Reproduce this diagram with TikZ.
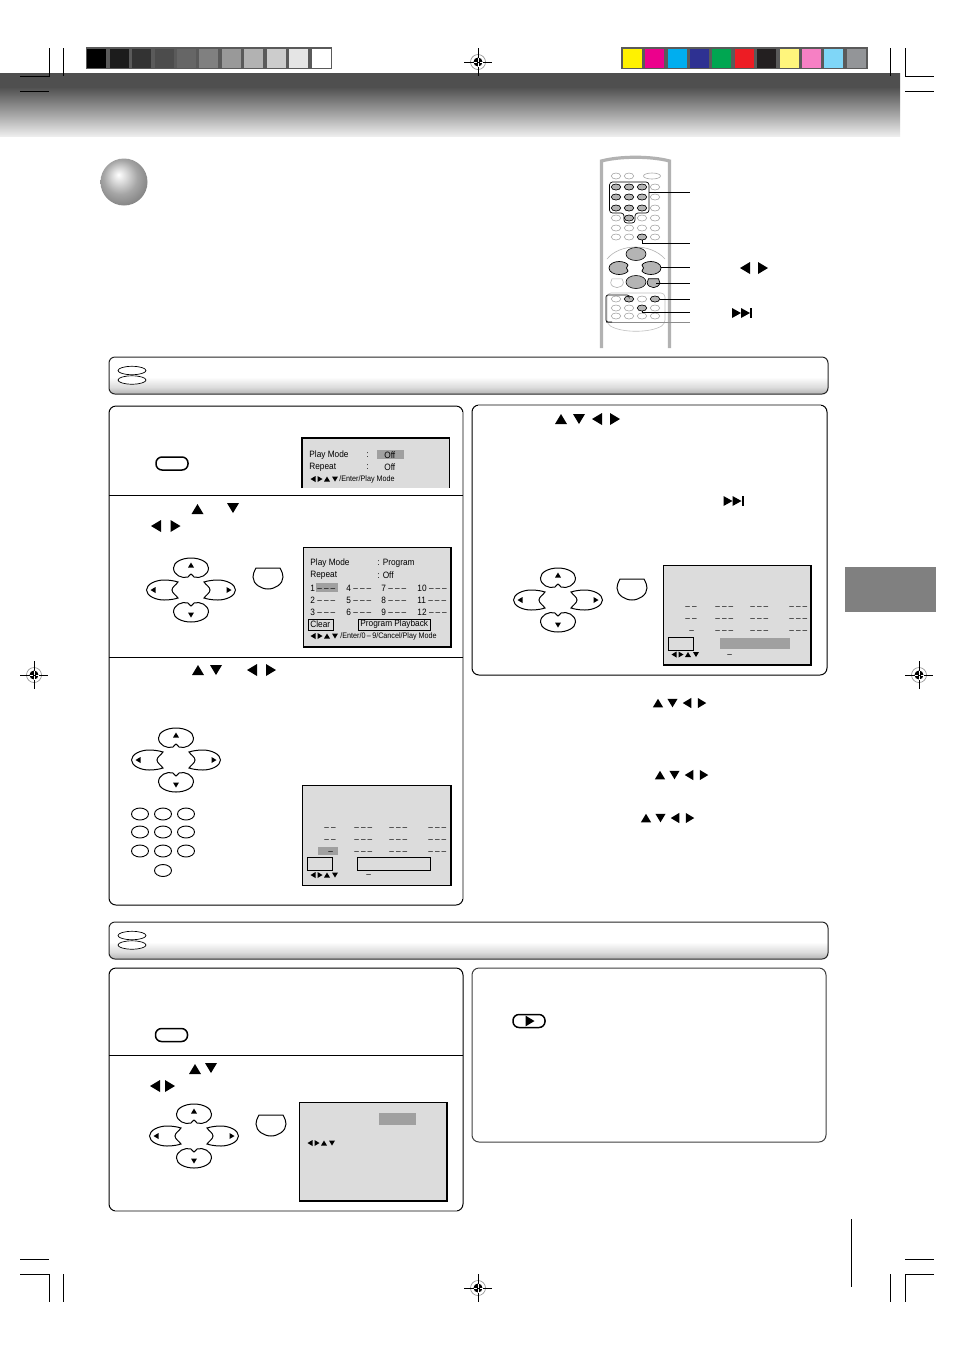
\documentclass[tikz,border=0pt]{standalone}
\usepackage{fontspec}
\usepackage{tikz}
\usetikzlibrary{positioning, shapes.geometric}
\newfontfamily\panelfont[FakeStretch=0.9]{Liberation Sans}
\definecolor{screengray}{HTML}{DCDCDC}
\definecolor{markgray}{HTML}{A0A0A0}
\definecolor{stripgray}{HTML}{5A5A5A}
\definecolor{btngray}{HTML}{B4B4B4}
\definecolor{rimgray}{HTML}{A8A8A8}
\definecolor{tabgray}{HTML}{808080}
\pgfdeclareverticalshading{headshade}{100bp}{color(0bp)=(white!93!black); color(25bp)=(white!93!black); color(42bp)=(white!65!black); color(64bp)=(black!69); color(100bp)=(black!69)}
\pgfdeclareverticalshading{barshade}{100bp}{color(0bp)=(black!30); color(25bp)=(black!30); color(34bp)=(black!14); color(48bp)=(white); color(100bp)=(white)}
\pgfdeclareradialshading{sphereshade}{\pgfpoint{-6bp}{8bp}}{color(0bp)=(white); color(8bp)=(black!15); color(18bp)=(black!35); color(32bp)=(black!52); color(50bp)=(black!55)}
\newcommand{\petalvpath}{(-3,9) .. controls (-9,11) and (-17.5,7) .. (-17.5,0) .. controls (-17.5,-6) and (-9,-10) .. (0,-10) .. controls (9,-10) and (17.5,-6) .. (17.5,0) .. controls (17.5,7) and (9,11) .. (3,9) .. controls (2,8.5) and (1,6) .. (0,6) .. controls (-1,6) and (-2,8.5) .. (-3,9) -- cycle}
\newcommand{\petalhpath}{(-17.5,0) .. controls (-17.5,-6) and (-8,-10) .. (0,-10) .. controls (6,-10) and (11,-9) .. (14,-8) .. controls (12,-5) and (8,-3) .. (8,0) .. controls (8,3) and (12,5) .. (14,8) .. controls (11,9) and (6,10) .. (0,10) .. controls (-8,10) and (-17.5,6) .. (-17.5,0) -- cycle}
\newcommand{\sidekeypath}{(-10,0) .. controls (-10,-4) and (-5,-6.5) .. (0,-6.5) .. controls (4,-6.5) and (8,-5) .. (9,-3) .. controls (8,-2) and (7.5,-1) .. (7.5,0) .. controls (7.5,1) and (8,2) .. (9,3) .. controls (8,5) and (4,6.5) .. (0,6.5) .. controls (-5,6.5) and (-10,4) .. (-10,0) -- cycle}
\newcommand{\dashes}{–\kern1pt–\kern1pt–}
\tikzset{
	triup/.pic={\fill (-6,5) -- (6,5) -- (0,-5) -- cycle;},
	tridown/.pic={\fill (-6,-5) -- (6,-5) -- (0,5) -- cycle;},
	trileft/.pic={\fill (5,-6) -- (5,6) -- (-5,0) -- cycle;},
	triright/.pic={\fill (-5,-6) -- (-5,6) -- (5,0) -- cycle;},
	skipicon/.pic={
		\fill (-10,-5) -- (-10,5) -- (-1,0) -- cycle;
		\fill (-1,-5) -- (-1,5) -- (8,0) -- cycle;
		\fill (8,-5) rectangle (10,5);
	},
	legendtris/.pic={
		\pic[scale=.5] at (3,0) {trileft};
		\pic[scale=.5] at (10,0) {triright};
		\pic[scale=.5] at (17,0) {triup};
		\pic[scale=.5] at (25,0) {tridown};
	},
	dpad/.pic={
		\begin{scope}[shift={(0,-22)}] \draw[keyline] \petalvpath; \end{scope}
		\begin{scope}[shift={(0,22)}, yscale=-1] \draw[keyline] \petalvpath; \end{scope}
		\begin{scope}[shift={(-27,0)}] \draw[keyline] \petalhpath; \end{scope}
		\begin{scope}[shift={(27,0)}, xscale=-1] \draw[keyline] \petalhpath; \end{scope}
		\pic[scale=.5] at (0,-25) {triup};
		\pic[scale=.5] at (0,25) {tridown};
		\pic[scale=.5] at (-38,0) {trileft};
		\pic[scale=.5] at (38,0) {triright};
	},
	enterkey/.pic={
		\draw[keyline] (-12,-10) -- (12,-10) .. controls (14,-6) and (15,-4) .. (15,-1) .. controls (15,6) and (7,11) .. (0,11) .. controls (-7,11) and (-15,6) .. (-15,-1) .. controls (-15,-4) and (-14,-6) .. (-12,-10) -- cycle;
	},
	regmark/.pic={
		\draw[black!45, line width=.3pt] (0,0) circle (7.5);
		\fill (0,0) circle (4.5);
		\draw[line width=.5pt] (-14,0) -- (14,0);
		\draw[line width=.5pt] (0,-14) -- (0,14);
		\draw[white, line width=.35pt] (-4.5,0) -- (4.5,0);
		\draw[white, line width=.35pt] (0,-4.5) -- (0,4.5);
		\draw[line width=.5pt] (-1.5,0) -- (1.5,0);
	},
	gridmarks/.pic={
		\foreach \y [count=\r] in {44,56} {
			\node[ptxt] (gm-\r-1) at (22,\y) {–\kern1pt–};
		}
		\foreach \y [count=\r] in {44,56,68} {
			\node[ptxt] (gm-\r-2) at (52,\y) {\dashes};
			\node[ptxt] (gm-\r-3) at (87,\y) {\dashes};
			\node[ptxt] (gm-\r-4) at (126,\y) {\dashes};
		}
		\node[ptxt] (gm-3-1) at (26,68) {–};
		\node[ptxt] (gm-foot) at (64,91.5) {–};
		\pic at (8,90) {legendtris};
	},
}
\begin{document}
\begin{tikzpicture}[x=.5pt, y=-.5pt,
		keyline/.style={draw=black, line width=.5pt},
		box/.style={draw=black, line width=.5pt, rounded corners=3.5pt},
		screen/.style={fill=screengray, draw=black, line width=.45pt},
		thickedge/.style={line width=.9pt},
		rim/.style={draw=rimgray, line width=.9pt},
		ptxt/.style={anchor=west, inner sep=0pt, font=\panelfont\fontsize{4.6pt}{5pt}\selectfont},
		helptxt/.style={anchor=west, inner sep=0pt, font=\panelfont\fontsize{4pt}{5pt}\selectfont},
		framed/.style={draw=black, line width=.4pt, fill=none},
		numkey/.style={ellipse, draw=black, line width=.45pt, minimum width=8.5pt, minimum height=6pt, inner sep=0pt},
		longkey/.style={draw=black, line width=.75pt, rounded corners=3pt, minimum width=16pt, minimum height=6.5pt, inner sep=0pt},
		rbtn/.style={ellipse, draw=black!35, line width=.3pt, minimum width=4.7pt, minimum height=3pt, inner sep=0pt},
		rbtnon/.style={ellipse, draw=black, fill=btngray, line width=.3pt, minimum width=4.7pt, minimum height=3pt, inner sep=0pt},
		rbig/.style={ellipse, draw=black, fill=btngray, line width=.3pt, minimum width=10pt, minimum height=6.5pt, inner sep=0pt},
		lead/.style={draw=black, line width=.35pt},
		crop/.style={draw=black, line width=.4pt},
	]
	\useasboundingbox (0,0) rectangle (954,1351);
	\fill[white] (0,0) rectangle (954,1351);

	% header band and the ball
	\shade[shading=headshade] (0,73) rectangle (900,136);
	\shade[shading=sphereshade] (124,182) circle (23.5);

	% colour strips
	\fill[stripgray] (86,47) rectangle (332,69);
	\foreach \x/\k in {87/100,110/89,132/80,155/70,177/60,199/50,222/40,244/30,267/20,289/10,312/0} {
		\fill[black!\k] (\x,49) rectangle (\x+19.3,68);
	}
	\fill[stripgray] (621,47) rectangle (868,69);
	\foreach \x/\c in {623/FFF200,645/EC008C,668/00AEEF,690/2E3192,712/00A651,735/ED1C24,757/231F20,780/FFF57C,802/F680C4,824/7FD6F7,847/939598} {
		\definecolor{swatch}{HTML}{\c}
		\fill[swatch] (\x,49) rectangle (\x+19,68);
	}

	% crop marks
	\draw[crop] (49.5,48) -- (49.5,76) -- (20,76);
	\draw[crop] (63.5,48) -- (63.5,76);
	\draw[crop] (20,91.5) -- (49,91.5);
	\draw[crop] (890,48) -- (890,76);
	\draw[crop] (905,48) -- (905,76) -- (934,76);
	\draw[crop] (905,91.5) -- (934,91.5);
	\draw[crop] (20,1259) -- (49,1259);
	\draw[crop] (20,1274) -- (49.5,1274) -- (49.5,1302);
	\draw[crop] (63.5,1274) -- (63.5,1302);
	\draw[crop] (905,1259) -- (934,1259);
	\draw[crop] (934,1274) -- (905,1274) -- (905,1302);
	\draw[crop] (890,1274) -- (890,1302);
	\draw[crop] (851,1219) -- (851,1287);
	\foreach \x/\y in {478/62,34/675,919/675,478/1288} {
		\pic at (\x,\y) {regmark};
	}

	% side tab
	\fill[tabgray] (845,567) rectangle (936,612);

	% remote control
	\draw[black!30, line width=1.6pt] (601.5,348) -- (601.5,161) .. controls (620,156) and (651,156) .. (669.5,161) -- (669.5,348);
	\draw[black!30, line width=.3pt] (607,259) .. controls (620,243) and (651,243) .. (665,259);
	\draw[black!25, line width=.3pt, rounded corners=2pt] (607,293) -- (607,324) .. controls (622,333) and (650,333) .. (665,324) -- (665,293) -- cycle;
	\node[rbtn] (rtop-1) at (616,176) {};
	\node[rbtn] (rtop-2) at (629,176) {};
	\node[rbtn, minimum width=8.5pt] (rtop-3) at (652,176) {};
	\foreach \x [count=\c] in {616,629,642,655} {
		\foreach \y [count=\r] in {187,197,208,218,228,237,299,308,316} {
			\node[rbtn] (rb-\r-\c) at (\x,\y) {};
		}
	}
	\foreach \r/\c in {1/1,1/2,1/3,2/1,2/2,2/3,3/1,3/2,3/3,4/2,6/3,7/2,7/4,8/3} {
		\node[rbtnon] (rbon-\r-\c) at (rb-\r-\c) {};
	}
	\draw[lead, rounded corners=1.5pt] (609.5,182) -- (649,182) -- (649,213) -- (635,213) -- (635,223) -- (624,223) -- (624,213) -- (609.5,213) -- cycle;
	\node[rbig] (rnorth) at (636,254) {};
	\node[rbig] (rsouth) at (636,282) {};
	\begin{scope}[shift={(619,268)}] \fill[btngray] \sidekeypath; \draw[lead] \sidekeypath; \end{scope}
	\begin{scope}[shift={(651,268)}, xscale=-1] \fill[btngray] \sidekeypath; \draw[lead] \sidekeypath; \end{scope}
	\begin{scope}[shift={(617,283)}, scale=.42] \draw[black!30, line width=.3pt] (-12,-10) -- (12,-10) .. controls (15,-4) and (15,-1) .. (15,-1) .. controls (15,6) and (7,11) .. (0,11) .. controls (-7,11) and (-15,6) .. (-15,-1) -- cycle; \end{scope}
	\begin{scope}[shift={(653.5,283)}, scale=.42] \fill[btngray] (-12,-10) -- (12,-10) -- (15,-1) .. controls (15,6) and (7,11) .. (0,11) .. controls (-7,11) and (-15,6) .. (-15,-1) -- cycle; \draw[lead] (-12,-10) -- (12,-10) -- (15,-1) .. controls (15,6) and (7,11) .. (0,11) .. controls (-7,11) and (-15,6) .. (-15,-1) -- cycle; \end{scope}
	\coordinate (lnum) at (649,192);
	\coordinate (lright) at (661,267);
	\coordinate (lenter) at (656,283);
	\coordinate (lcorner) at (606,322);
	\coordinate (end-1) at (690,192);
	\coordinate (end-2) at (690,243);
	\coordinate (end-3) at (690,267);
	\coordinate (end-4) at (690,283);
	\coordinate (end-5) at (690,299);
	\coordinate (end-6) at (690,312);
	\coordinate (end-7) at (690,322);
	\draw[lead] (lnum) -- (end-1);
	\draw[lead] (rbon-6-3.south) |- (end-2);
	\draw[lead] (lright) -- (end-3);
	\draw[lead] (lenter) -- (end-4);
	\draw[lead] (rbon-7-4.east) -- (end-5);
	\draw[lead] (rbon-8-3.south) |- (end-6);
	\draw[lead, draw=black!45] (lcorner) -- (end-7);
	\draw[lead, rounded corners=1pt] (rbon-7-2.north) |- (606,295) -- (lcorner) -- (612,322);
	\pic at (745,268) {trileft};
	\pic at (763,268) {triright};
	\pic at (742,313) {skipicon};

	% section bars
	\foreach \y in {357,922} {
		\shade[shading=barshade, rounded corners=3pt] (109,\y) rectangle (828,\y+37);
		\draw[box, rounded corners=3pt, draw=black!85] (109,\y) rectangle (828,\y+37);
		\draw[line width=.35pt, fill=white] (132,\y+13.5) ellipse (14 and 4.2);
		\draw[line width=.35pt, fill=white] (132,\y+23) ellipse (14 and 4.2);
	}

	% panels
	\draw[box] (109,406) rectangle (463,905);
	\draw[rim] (463,412) -- (463,899);
	\draw[line width=.45pt] (109,495) -- (463,495);
	\draw[line width=.45pt] (109,657) -- (463,657);
	\draw[box] (472,405) rectangle (827,675);
	\draw[rim] (478,405) -- (821,405);
	\draw[box] (109,968) rectangle (463,1211);
	\draw[rim] (115,1211) -- (457,1211);
	\draw[line width=.45pt] (109,1055) -- (463,1055);
	\draw[box, draw=black!75] (472,968) rectangle (826,1142);

	% first panel, step 1
	\node[longkey] (setup-1) at (172,463.5) {};
	\fill[screengray] (302,438) rectangle (449.5,488);
	\draw[thickedge] (302,488) -- (302,438) -- (449.5,438) -- (449.5,488);
	\fill[markgray] (377,450) rectangle (404,459);
	\node[ptxt] (mode-1) at (309,455) {Play Mode};
	\node[ptxt] (col-1) at (366,455) {:};
	\node[ptxt] (off-1) at (384,455) {Off};
	\node[ptxt] (rep-1) at (309,467) {Repeat};
	\node[ptxt] (col-2) at (366,467) {:};
	\node[ptxt] (off-2) at (384,467) {Off};
	\pic at (310,479) {legendtris};
	\node[helptxt] (help-1) at (339,479) {/Enter/Play Mode};

	% first panel, step 2
	\pic at (197.5,509) {triup};
	\pic at (233,508) {tridown};
	\pic at (156,526) {trileft};
	\pic at (175.5,526) {triright};
	\pic at (191,590) {dpad};
	\pic at (268,578) {enterkey};
	\draw[screen] (303,547) rectangle (451,647);
	\draw[thickedge] (451,547) -- (451,647) -- (303,647);
	\fill[markgray] (316,583) rectangle (338,592);
	\node[ptxt] (mode-2) at (310,563) {Play Mode};
	\node[ptxt] (col-3) at (377,563) {: Program};
	\node[ptxt] (rep-2) at (310,575) {Repeat};
	\node[ptxt] (col-4) at (377,575) {: Off};
	\foreach \a/\b/\c/\d [count=\r] in {1/4/7/10,2/5/8/11,3/6/9/12} {
		\node[ptxt] (pa-\r) at (310,576+12*\r) {\a\kern1.2pt\dashes};
		\node[ptxt] (pb-\r) at (346,576+12*\r) {\b\kern1.2pt\dashes};
		\node[ptxt] (pc-\r) at (381,576+12*\r) {\c\kern1.2pt\dashes};
		\node[ptxt] (pd-\r) at (417,576+12*\r) {\d\kern1.2pt\dashes};
	}
	\draw[framed] (308,619) rectangle (333,630);
	\draw[framed] (358,619) rectangle (430,630);
	\node[ptxt] (clear) at (310,624) {Clear};
	\node[ptxt] (playback) at (360,624) {Program Playback};
	\pic at (310,636) {legendtris};
	\node[helptxt] (help-2) at (340,636) {/Enter/0\,–\,9/Cancel/Play Mode};

	% first panel, step 3
	\pic at (198,670) {triup};
	\pic at (216,670) {tridown};
	\pic at (252,670) {trileft};
	\pic at (271,670) {triright};
	\pic at (176,760) {dpad};
	\foreach \y [count=\r] in {814,832,851} {
		\foreach \x [count=\c] in {140,163,186} {
			\node[numkey] (num-\r-\c) at (\x,\y) {};
		}
	}
	\node[numkey] (num-0) at (163,870.5) {};
	\draw[screen] (302,785) rectangle (451,885);
	\draw[thickedge] (450.5,785) -- (450.5,885);
	\fill[markgray] (318,847) rectangle (338,855);
	\draw[framed] (307,857) rectangle (332,870);
	\draw[framed] (357,857) rectangle (430,870);
	\pic at (302,785) {gridmarks};

	% second panel
	\pic at (561,419) {triup};
	\pic at (579,419) {tridown};
	\pic at (597,419) {trileft};
	\pic at (615,419) {triright};
	\pic at (733.5,501) {skipicon};
	\pic at (558,600) {dpad};
	\pic at (632,589) {enterkey};
	\draw[screen] (663,565) rectangle (811,665);
	\draw[thickedge] (811,565) -- (811,665) -- (663,665);
	\fill[markgray] (720,638) rectangle (790,649);
	\draw[framed] (668,637) rectangle (693,650);
	\pic at (663,564.5) {gridmarks};

	% notes under the second panel
	\foreach \x/\y in {658/703,660/775,646/818} {
		\pic[scale=.85] at (\x,\y) {triup};
		\pic[scale=.85] at (\x+14.5,\y) {tridown};
		\pic[scale=.85] at (\x+29,\y) {trileft};
		\pic[scale=.85] at (\x+44,\y) {triright};
	}

	% lower panels
	\node[longkey] (setup-2) at (171.5,1035) {};
	\pic at (195,1069) {triup};
	\pic at (211,1068) {tridown};
	\pic at (155,1086) {trileft};
	\pic at (170,1086) {triright};
	\pic at (194,1136) {dpad};
	\pic at (271,1125) {enterkey};
	\draw[screen] (299,1102) rectangle (447,1201);
	\draw[thickedge] (447,1102) -- (447,1201) -- (299,1201);
	\fill[markgray] (379,1113) rectangle (416,1125);
	\pic at (307,1143) {legendtris};
	\node[longkey] (play) at (529,1021) {};
	\pic[scale=.9] at (530,1021) {triright};
\end{tikzpicture}
\end{document}
